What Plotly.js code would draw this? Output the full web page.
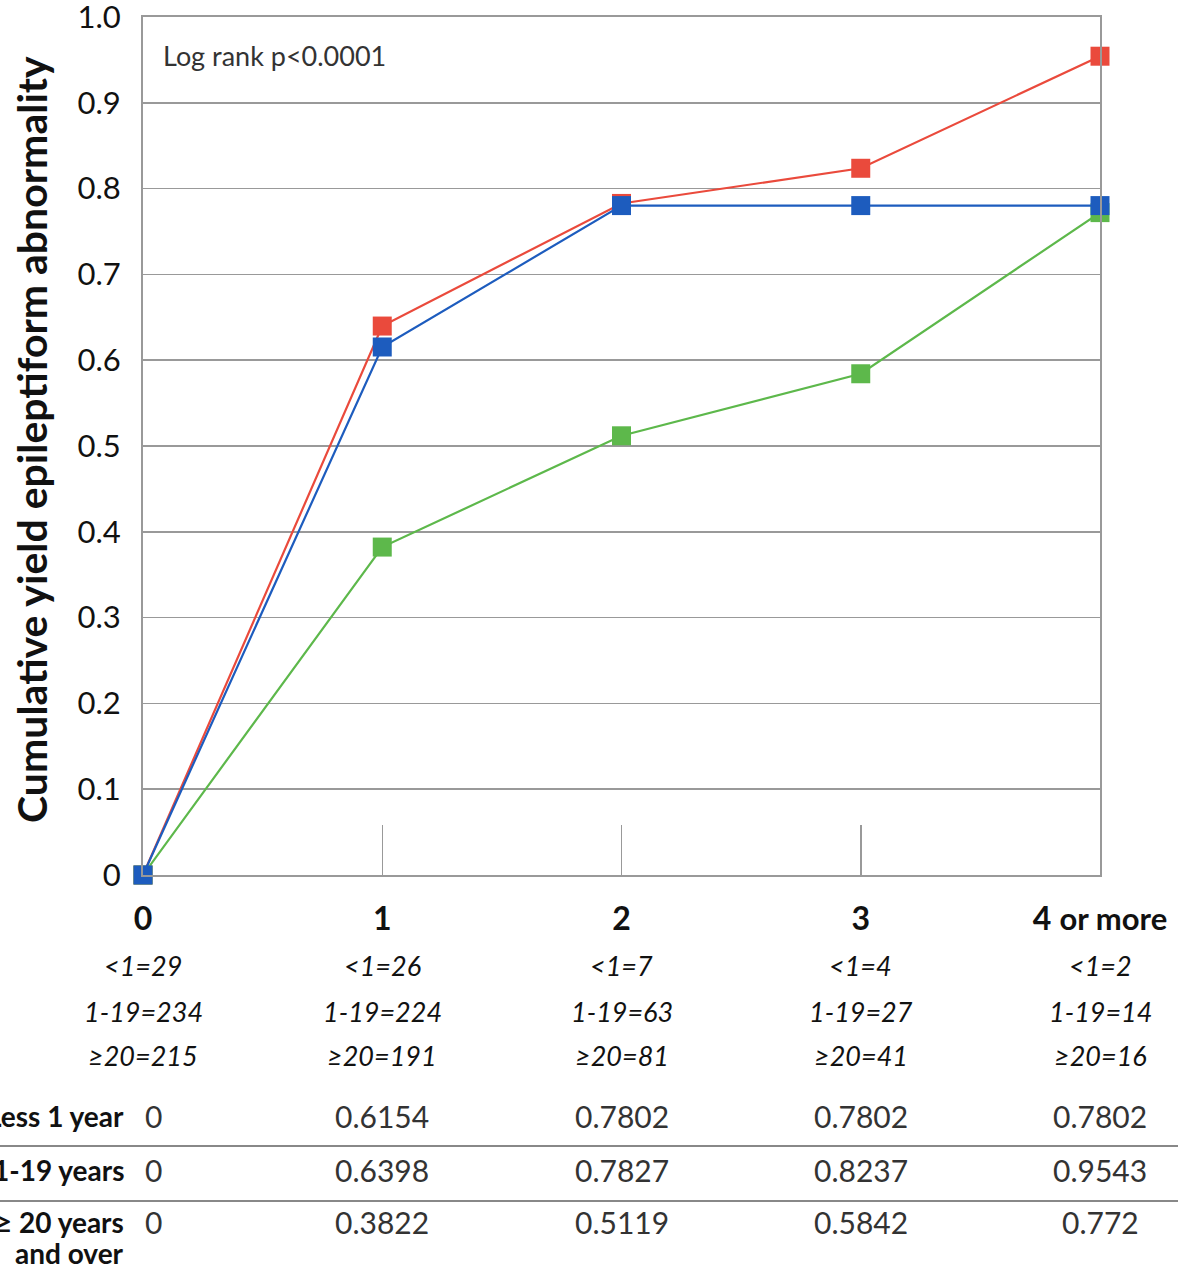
<!DOCTYPE html>
<html>
<head>
<meta charset="utf-8">
<script src="https://cdn.plot.ly/plotly-3.0.1.min.js"></script>
<style>html,body{margin:0;padding:0;background:#fff;}#chart{width:1199px;height:1269px;}</style>
</head>
<body>
<div id="chart"></div>
<script>
// ---- data ----
var categories = [0, 1, 2, 3, 4];
var categoryLabels = ["<b>0</b>", "<b>1</b>", "<b>2</b>", "<b>3</b>", "<b>4</b> <span style=\"font-size:31px\"><b>or more</b></span>"];
var lessOneYear = [0, 0.6154, 0.7802, 0.7802, 0.7802];
var oneTo19Years = [0, 0.6398, 0.7827, 0.8237, 0.9543];
var twentyPlus = [0, 0.3822, 0.5119, 0.5842, 0.772];
var countsLessOne = ["<1=29", "<1=26", "<1=7", "<1=4", "<1=2"];
var counts1to19 = ["1-19=234", "1-19=224", "1-19=63", "1-19=27", "1-19=14"];
var counts20plus = ["≥20=215", "≥20=191", "≥20=81", "≥20=41", "≥20=16"];
var tableLabels = ["Less 1 year", "1-19 years", "≥ 20 years<br>and over"];
var tableRows = [
  ["0", "0.6154", "0.7802", "0.7802", "0.7802"],
  ["0", "0.6398", "0.7827", "0.8237", "0.9543"],
  ["0", "0.3822", "0.5119", "0.5842", "0.772"]
];
var yTickVals = [0, 0.1, 0.2, 0.3, 0.4, 0.5, 0.6, 0.7, 0.8, 0.9, 1.0];
var yTickText = ["0", "0.1", "0.2", "0.3", "0.4", "0.5", "0.6", "0.7", "0.8", "0.9", "1.0"];
var yTitle = "Cumulative yield epileptiform abnormality";
var noteText = "Log rank p<0.0001";

// ---- chart ----
var FONT = "Lato, 'Open Sans', sans-serif";
function series(y, color) {
  return {
    x: categories, y: y, type: "scatter", mode: "lines+markers",
    line: {color: color, width: 2.2},
    marker: {symbol: "square", size: 19, color: color},
    cliponaxis: false, showlegend: false, hoverinfo: "skip"
  };
}
var traces = [
  series(oneTo19Years, "#ea4a3c"),
  series(twentyPlus, "#5db84b"),
  series(lessOneYear, "#1d5cbe")
];

var plotLeft = 143, plotRight = 1100, plotW = plotRight - plotLeft;
var plotTop = 17, plotBottom = 875, plotH = plotBottom - plotTop;
function py(pix) { return (plotBottom - pix) / plotH; }
function px(pix) { return (pix - plotLeft) / plotW; }

var annotations = [];
annotations.push({xref: "paper", yref: "paper", x: px(161), y: py(55), xanchor: "left", yanchor: "middle",
  text: noteText.replace(/</g, "&lt;"), showarrow: false, font: {family: FONT, size: 27, color: "#333"}});

annotations.push({xref: "paper", yref: "paper", x: px(31), y: py(440), xanchor: "center", yanchor: "middle",
  textangle: -90, text: "<b>" + yTitle + "</b>", showarrow: false, font: {family: FONT, size: 41, color: "#111"}});

var countRows = [countsLessOne, counts1to19, counts20plus];
var countY = [966, 1011, 1055];
countRows.forEach(function (row, r) {
  row.forEach(function (t, i) {
    annotations.push({xref: "x", yref: "paper", x: categories[i], y: py(countY[r]), xanchor: "center", yanchor: "middle",
      text: "<i>" + t.replace(/</g, "&lt;") + "</i>", showarrow: false, font: {family: FONT, size: 27, color: "#111"}});
  });
});

var rowY = [1116, 1170, 1222];
tableRows.forEach(function (row, r) {
  tableLabels[r].split("<br>").forEach(function (line, k) {
    annotations.push({xref: "paper", yref: "paper", x: px(126), y: py(rowY[r] + 31 * k), xanchor: "right", yanchor: "middle",
      text: "<b>" + line + "</b>", showarrow: false, font: {family: FONT, size: 28, color: "#111"}});
  });
  row.forEach(function (t, i) {
    annotations.push({xref: "x", yref: "paper", x: categories[i], xshift: i === 0 ? 10 : 0, y: py(rowY[r]), xanchor: "center", yanchor: "middle",
      text: t, showarrow: false, font: {family: FONT, size: 30, color: "#333"}});
  });
});

var shapes = [1146, 1201].map(function (yp) {
  return {type: "line", xref: "paper", yref: "paper", x0: px(0), x1: px(1178), y0: py(yp), y1: py(yp),
    line: {color: "#888", width: 2}};
});

var layout = {
  width: 1199, height: 1269,
  margin: {l: plotLeft, r: 1199 - plotRight, t: plotTop, b: 1269 - plotBottom},
  paper_bgcolor: "#fff", plot_bgcolor: "#fff",
  font: {family: FONT, color: "#111"},
  xaxis: {
    range: [0, 4], tickvals: categories, ticktext: categoryLabels,
    ticks: "inside", ticklen: 50, tickcolor: "#999", tickwidth: 1.5,
    showgrid: false, zeroline: false, showline: true, linecolor: "#999", linewidth: 2, mirror: true,
    ticklabelstandoff: 15, ticklabeloverflow: "allow", tickfont: {family: FONT, size: 32, color: "#111"}, fixedrange: true
  },
  yaxis: {
    range: [0, 1], tickvals: yTickVals, ticktext: yTickText,
    showgrid: true, gridcolor: "#999", gridwidth: 1.5, zeroline: false,
    showline: true, linecolor: "#999", linewidth: 2, mirror: true, ticks: "",
    ticklabelstandoff: 14, ticklabeloverflow: "allow", tickfont: {family: FONT, size: 31, color: "#111"},
    fixedrange: true
  },
  annotations: annotations,
  shapes: shapes
};

Plotly.newPlot("chart", traces, layout, {displayModeBar: false, staticPlot: true});
</script>
</body>
</html>
